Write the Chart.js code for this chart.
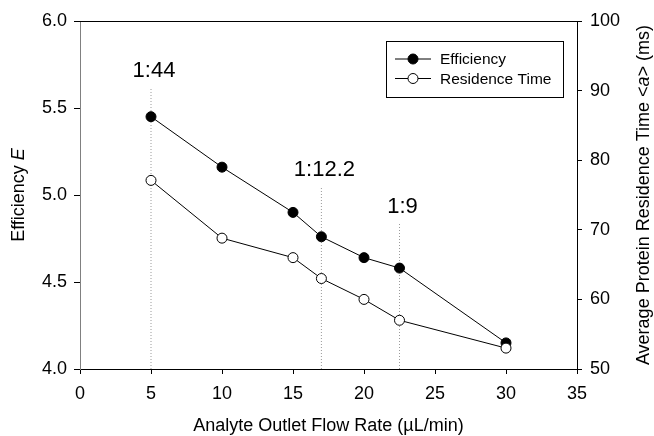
<!DOCTYPE html>
<html>
<head>
<meta charset="utf-8">
<script src="https://cdn.jsdelivr.net/npm/chart.js@4.4.0/dist/chart.umd.min.js"></script>
<style>
  html, body { margin: 0; padding: 0; background: #fff; }
  #wrap { width: 654px; height: 436px; }
</style>
</head>
<body>
<div id="wrap"><canvas id="chart" width="654" height="436"></canvas></div>
<script>
// flow rate (uL/min) on x
const flow = [5, 10, 15, 17, 20, 22.5, 30];
const efficiency = [5.45, 5.16, 4.90, 4.76, 4.64, 4.58, 4.15];
const residence = [77.1, 68.8, 66.0, 63.0, 60.0, 57.0, 53.0];

// dotted marker lines with ratio labels
const ratioX = [5, 17, 22.5];
const ratioTop = [5.62, 5.05, 4.84];
const ratioText = ['1:44', '1:12.2', '1:9'];

const FONT = 'Liberation Sans, Arial, sans-serif';

const dotted = ratioX.map((x, i) => ({
    data: [{x: x, y: 4.0}, {x: x, y: ratioTop[i]}],
    yAxisID: 'y',
    borderColor: '#9a9a9a',
    borderWidth: 1,
    borderDash: [1, 2],
    pointRadius: 0,
    order: 3
}));

const extras = {
    id: 'extras',
    afterDraw(chart) {
        const c = chart.ctx;
        const a = chart.chartArea;
        const xs = chart.scales.x, ys = chart.scales.y;
        c.save();
        // top frame line
        c.strokeStyle = '#000';
        c.lineWidth = 1;
        c.beginPath();
        c.moveTo(a.left, a.top + 0.5);
        c.lineTo(a.right, a.top + 0.5);
        c.stroke();

        // ratio labels
        c.fillStyle = '#000';
        c.font = '22px ' + FONT;
        c.textAlign = 'center';
        c.textBaseline = 'alphabetic';
        ratioX.forEach((x, i) => {
            c.fillText(ratioText[i], xs.getPixelForValue(x) + 3, ys.getPixelForValue(ratioTop[i]) - 10);
        });

        // legend
        const lx = 386, ly = 41, lw = 177, lh = 56;
        c.strokeStyle = '#000';
        c.strokeRect(lx + 0.5, ly + 0.5, lw, lh);
        const rows = [['Efficiency', '#000'], ['Residence Time', '#fff']];
        c.font = '15.5px ' + FONT;
        c.textAlign = 'left';
        c.textBaseline = 'middle';
        rows.forEach((r, i) => {
            const y = 59 + i * 19.5;
            c.beginPath();
            c.moveTo(395, y);
            c.lineTo(431, y);
            c.stroke();
            c.beginPath();
            c.arc(413, y, 5, 0, Math.PI * 2);
            c.fillStyle = r[1];
            c.fill();
            c.stroke();
            c.fillStyle = '#000';
            c.fillText(r[0], 440, y + 1);
        });

        // axis titles with italic parts
        function mixed(parts, cx, cy, rot) {
            c.save();
            c.translate(cx, cy);
            c.rotate(rot);
            c.textBaseline = 'middle';
            c.textAlign = 'left';
            let w = 0;
            parts.forEach(p => { c.font = (p[1] ? 'italic ' : '') + '18px ' + FONT; w += c.measureText(p[0]).width; });
            let x = -w / 2;
            parts.forEach(p => {
                c.font = (p[1] ? 'italic ' : '') + '18px ' + FONT;
                c.fillText(p[0], x, 0);
                x += c.measureText(p[0]).width;
            });
            c.restore();
        }
        c.fillStyle = '#000';
        mixed([['Efficiency ', false], ['E', true]], 19, 195, -Math.PI / 2);
        mixed([['Average Protein Residence Time <', false], ['a', true], ['> (ms)', false]], 644, 195, -Math.PI / 2);
        mixed([['Analyte Outlet Flow Rate (\u00b5L/min)', false]], (a.left + a.right) / 2, 426, 0);
        c.restore();
    }
};

new Chart(document.getElementById('chart'), {
    type: 'line',
    data: {
        datasets: [
            {
                label: 'Efficiency',
                data: flow.map((x, i) => ({x: x, y: efficiency[i]})),
                yAxisID: 'y',
                borderColor: '#000',
                borderWidth: 1,
                pointRadius: 5,
                pointBackgroundColor: '#000',
                pointBorderColor: '#000',
                pointBorderWidth: 1,
                order: 2
            },
            {
                label: 'Residence Time',
                data: flow.map((x, i) => ({x: x, y: residence[i]})),
                yAxisID: 'y2',
                borderColor: '#000',
                borderWidth: 1,
                pointRadius: 5,
                pointBackgroundColor: '#fff',
                pointBorderColor: '#000',
                pointBorderWidth: 1,
                order: 1
            },
            ...dotted
        ]
    },
    options: {
        responsive: false,
        animation: false,
        layout: {padding: {top: 21, left: 0, right: 0, bottom: 0}},
        plugins: {legend: {display: false}, tooltip: {enabled: false}},
        scales: {
            x: {
                type: 'linear',
                min: 0, max: 35,
                ticks: {stepSize: 5, color: '#000', font: {family: FONT, size: 18}, padding: 9, maxRotation: 0},
                grid: {drawOnChartArea: false, tickLength: 5, color: '#000'},
                border: {color: '#000', width: 1},
                afterFit(s) { s.height = 67; }
            },
            y: {
                position: 'left',
                min: 4.0, max: 6.0,
                ticks: {stepSize: 0.5, color: '#000', font: {family: FONT, size: 18}, padding: 7,
                    callback: v => v.toFixed(1)},
                grid: {drawOnChartArea: false, tickLength: 6, color: '#000'},
                border: {color: '#808080', width: 1},
                afterFit(s) { s.width = 80; }
            },
            y2: {
                position: 'right',
                min: 50, max: 100,
                ticks: {stepSize: 10, color: '#000', font: {family: FONT, size: 18}, padding: 8},
                grid: {drawOnChartArea: false, tickLength: 5, color: '#000'},
                border: {color: '#000', width: 1},
                afterFit(s) { s.width = 77; }
            }
        }
    },
    plugins: [extras]
});
</script>
</body>
</html>
